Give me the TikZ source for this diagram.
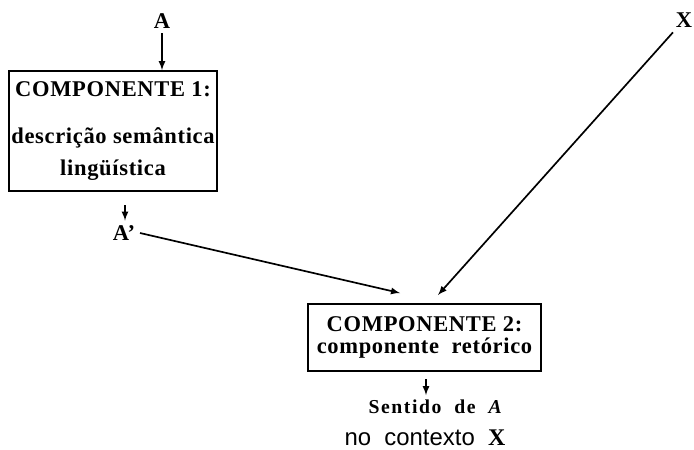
\documentclass[tikz,border=0pt]{standalone}
\usepackage{fontspec}
\setmainfont{Liberation Serif}
\setsansfont{Liberation Sans}
\usepackage{tikz}
\usetikzlibrary{arrows,positioning}
\tikzset{>=latex}
\def\ux{0.025cm}
\def\uy{0.025cm}
\tikzset{
     comp/.style={draw, line width=1.3pt, align=center, inner sep=0pt,
       font=\bfseries\fontsize{16}{19}\selectfont\addfontfeature{LetterSpace=3}},
     sym/.style={font=\bfseries\fontsize{16}{19}\selectfont},
     flow/.style={->, line width=1.2pt},
}

\begin{document}
\begin{tikzpicture}[x=\ux, y=-\uy]
		\useasboundingbox (0,0) rectangle (694,449);

		%% first component
		\node[sym] (A) at (162,21) {A};
		\node[comp, minimum width=208*\ux, minimum height=120*\uy] (comp1) at (113,131)
		  {COMPONENTE 1:\\[0.5cm]descrição semântica\\[0.12cm]lingüística};
		\node[sym] (Ap) at (124,233) {A’};

		\draw[flow] (A) -- (A |- comp1.north);
		\coordinate (c1out) at (125,205);
		\draw[flow] (c1out) -- (c1out |- Ap.north);

		%% second component
		\node[sym] (X) at (684,20) {X};
		\node[comp, minimum width=233*\ux, minimum height=67*\uy] (comp2) at (424.5,337.5)
		  {COMPONENTE 2:\\[-0.1cm]componente \ retórico};
		\coordinate (in1) at (400,293);
		\coordinate (in2) at (438,295);
		\draw[flow] (Ap.east) -- (in1);
		\draw[flow] (X) -- (in2);

		%% result
		\node[font=\bfseries\fontsize{14}{16}\selectfont\addfontfeature{LetterSpace=8}] (sense) at (436,407)
		  {Sentido \ de \ \textit{A}};
		\node[font=\fontsize{17}{19}\selectfont] (ctx) at (425,438) {\sffamily no \ contexto \ \rmfamily\bfseries X};
		\coordinate (c2out) at (426,379);
		\draw[flow] (c2out) -- (c2out |- sense.north);

\end{tikzpicture}
\end{document}
